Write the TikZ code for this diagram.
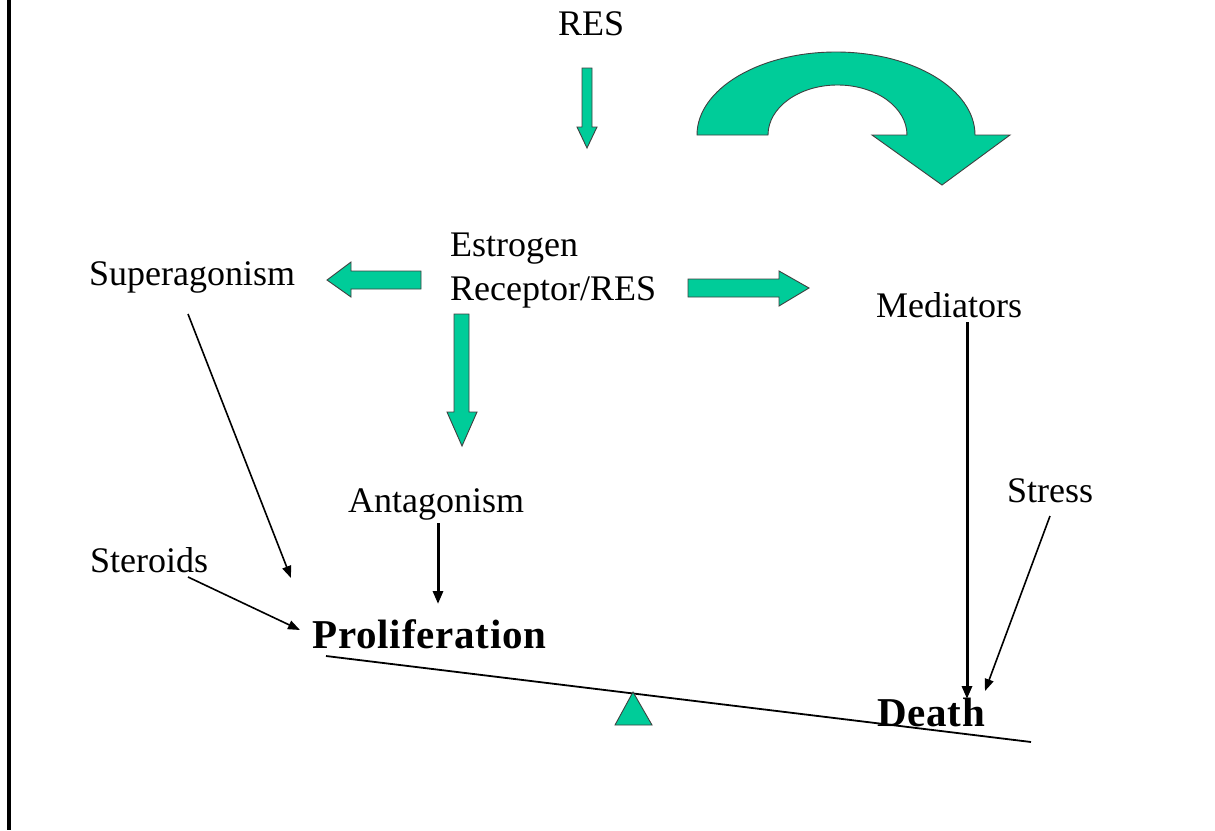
\documentclass[tikz,border=0pt]{standalone}
\usepackage{fontspec}
\setmainfont{Liberation Serif}
\usetikzlibrary{arrows.meta}
\definecolor{sgreen}{RGB}{0,204,153}
\tikzset{
  lbl/.style={anchor=base west,inner sep=0pt,font=\fontsize{36}{44}\selectfont},
  blbl/.style={anchor=base west,inner sep=0pt,font=\fontsize{41}{48}\selectfont\bfseries\addfontfeature{LetterSpace=2}},
  garrow/.style={fill=sgreen,draw=black!75,line width=0.9pt,line join=miter},
  thinarr/.style={line width=1.6pt,-{Triangle[length=12pt,width=9pt]}},
  thickarr/.style={line width=3pt,-{Triangle[length=13pt,width=10pt]}},
}
\begin{document}
\begin{tikzpicture}[x=1pt,y=1pt]
\useasboundingbox (0,0) rectangle (1215,-830);
\fill[white] (0,0) rectangle (1215,-830);
\draw[line width=4pt] (9,0) -- (9,-830);
% texts
\node[lbl] (res) at (558,-35) {RES};
\node[lbl] (est) at (450,-256) {Estrogen};
\node[lbl] (rec) at (450,-300) {Receptor/RES};
\node[lbl] (sup) at (89,-285) {Superagonism};
\node[lbl] (med) at (876,-317) {Mediators};
\node[lbl] (ant) at (348,-512) {Antagonism};
\node[lbl] (str) at (1007,-502) {Stress};
\node[lbl] (ster) at (90,-572) {Steroids};
\node[blbl] (pro) at (312,-648) {Proliferation};
\node[blbl] (dea) at (877,-726) {Death};
% green block arrows
\draw[garrow] (582,-68) -- (592,-68) -- (592,-127) -- (597,-127) -- (587,-148) -- (577,-127) -- (582,-127) -- cycle;
\draw[garrow] (421,-271) -- (421,-289) -- (351,-289) -- (351,-297) -- (327,-280) -- (351,-262) -- (351,-271) -- cycle;
\draw[garrow] (688,-279) -- (779,-279) -- (779,-271) -- (809,-288) -- (779,-306) -- (779,-297) -- (688,-297) -- cycle;
\draw[garrow] (454,-314) -- (469,-314) -- (469,-412) -- (477,-412) -- (462,-446) -- (447,-412) -- (454,-412) -- cycle;
\draw[garrow] (697,-135) arc[start angle=180,end angle=0,x radius=139,y radius=83]
  -- (1010,-135) -- (942,-185) -- (872,-135) -- (907,-135)
  arc[start angle=0,end angle=180,x radius=69.5,y radius=50] -- cycle;
% connector ends
\coordinate (supA) at (188,-314);
\coordinate (supB) at (291,-578);
\coordinate (antA) at (438,-523);
\coordinate (antB) at (438,-604);
\coordinate (stA) at (188,-577);
\coordinate (stB) at (300,-630);
\coordinate (medA) at (967,-322);
\coordinate (medB) at (967,-699);
\coordinate (strA) at (1050,-516);
\coordinate (strB) at (985,-691);
\draw[thinarr] (supA) -- (supB);
\draw[thickarr] (antA) -- (antB);
\draw[thinarr] (stA) -- (stB);
\draw[thickarr] (medA) -- (medB);
\draw[thinarr] (strA) -- (strB);
% balance
\coordinate (beamL) at (326,-656);
\coordinate (beamR) at (1031,-742);
\draw[line width=1.8pt] (beamL) -- (beamR);
\draw[garrow] (633,-692) -- (652,-725) -- (615,-725) -- cycle;
\end{tikzpicture}
\end{document}
